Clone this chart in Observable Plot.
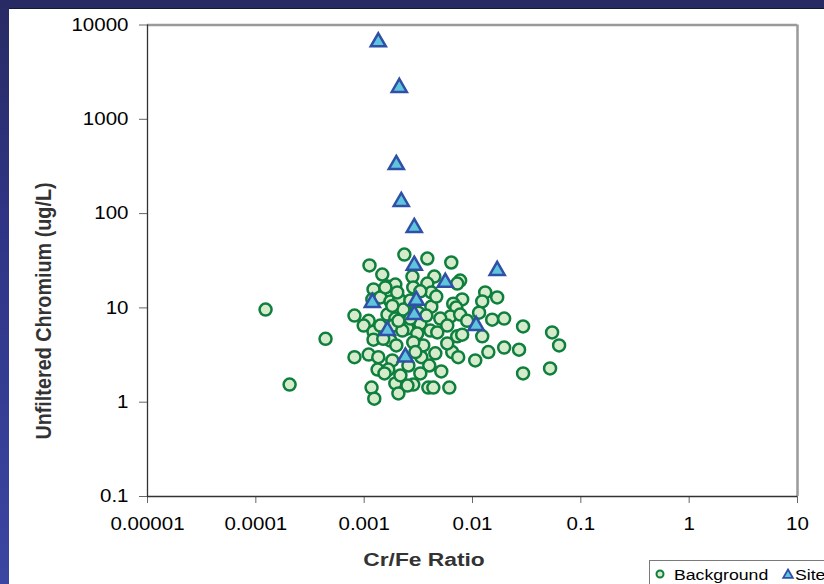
<!DOCTYPE html>
<html>
<head>
<meta charset="utf-8">
<script src="https://cdn.jsdelivr.net/npm/d3@7"></script>
<script src="https://cdn.jsdelivr.net/npm/@observablehq/plot@0.6"></script>
<style>
  html, body { margin: 0; padding: 0; background: #fff; overflow: hidden; }
  body { width: 824px; height: 584px; position: relative; }
  #topband { position: absolute; left: 0; top: 0; width: 824px; height: 8px; background: #272a63; border-bottom: 1px solid #14163a; }
  #leftband { position: absolute; left: 0; top: 0; width: 9px; height: 584px; background: linear-gradient(#272a63, #2f3586 40%, #3b46a2); }
  #chart { position: absolute; left: 0; top: 0; }
  #legend { position: absolute; left: 649px; top: 560px; width: 200px; height: 32px; border: 1px solid #7a7a7a; background: #fff; }
</style>
</head>
<body>
<div id="chart"></div>
<div id="topband"></div>
<div id="leftband"></div>
<div id="legend"></div>
<script>
// Background samples: Cr/Fe ratio and unfiltered chromium (ug/L)
const bgRatio = [0.000123, 0.00044, 0.000205, 0.00112, 0.00147, 0.00122, 0.00164, 0.00194, 0.00119, 0.00141, 0.00175, 0.00164, 0.000814, 0.0011, 0.00099, 0.00122, 0.00122, 0.00175, 0.000814, 0.0011, 0.00135, 0.00182, 0.00133, 0.00167, 0.00194, 0.00117, 0.00124, 0.00207, 0.00216, 0.00211, 0.00216, 0.00157, 0.00202, 0.0024, 0.00194, 0.00256, 0.00186,
  0.00235, 0.00383, 0.00637, 0.00279, 0.00444, 0.00769, 0.00723, 0.00383, 0.00284, 0.00417, 0.0131, 0.0169, 0.0123, 0.00803, 0.00664, 0.00708, 0.00417, 0.0023, 0.0115, 0.00624, 0.00769, 0.00504, 0.0152, 0.0196, 0.00893, 0.00585, 0.0033, 0.00408, 0.00251, 0.00473, 0.00309, 0.00723, 0.00803, 0.0123, 0.0293, 0.0543, 0.063, 0.00351, 0.00284, 0.0065, 0.00738, 0.0106, 0.014, 0.0196, 0.0269, 0.00337, 0.00399, 0.0033, 0.00515, 0.00391, 0.00435, 0.00611, 0.00284, 0.0293, 0.052, 0.00256, 0.00251, 0.00225, 0.00267, 0.00316,
  0.00141, 0.0015, 0.00198, 0.00154, 0.00267, 0.00375, 0.00463, 0.0033, 0.00207, 0.00585, 0.00454, 0.00182, 0.00297];
const bgCr = [9.6, 4.7, 1.54, 28.2, 22.6, 15.7, 16.9, 17.7, 12.3, 12.9, 11.7, 8.5, 8.3, 7.3, 6.5, 5.6, 4.6, 4.5, 3.0, 3.2, 3.0, 2.77, 2.22, 2.22, 1.58, 1.43, 1.09, 1.24, 1.92, 12.3, 7.7, 16.5, 14.6, 9.4, 7.7, 6.2, 6.5,
  36.8, 33.4, 30.3, 21.5, 21.5, 19.5, 18.1, 18.1, 16.5, 14.6, 14.6, 12.9, 11.7, 12.3, 11.1, 10.1, 10.3, 9.6, 8.9, 8.1, 8.5, 7.7, 7.5, 7.7, 7.3, 6.5, 6.8, 5.75, 6.05, 5.5, 5.35, 5.0, 5.2, 5.0, 6.35, 5.5, 4.0, 4.0, 4.3, 3.4, 3.0, 2.77, 3.4, 3.8, 3.6, 3.0, 2.45, 2.02, 2.12, 1.43, 1.43, 1.43, 1.54, 2.02, 2.28, 2.45, 1.5, 5.75, 12.0, 8.9,
  6.5, 4.7, 4.0, 2.02, 7.7, 8.3, 13.2, 15.0, 7.3, 4.2, 3.3, 10.5, 3.4];

// Site samples
const siteRatio = [0.00135, 0.00211, 0.00198, 0.0022, 0.0029, 0.0029, 0.0169, 0.00561, 0.00119, 0.00303, 0.0029, 0.00164, 0.0108, 0.0024];
const siteCr = [6600, 2170, 330, 134, 71, 28.2, 24.9, 18.6, 11.4, 12.0, 8.5, 5.75, 6.5, 3.0];

// Axis ticks and labels
const xTicks = [0.00001, 0.0001, 0.001, 0.01, 0.1, 1, 10];
const xTickLabels = ["0.00001", "0.0001", "0.001", "0.01", "0.1", "1", "10"];
const yTicks = [0.1, 1, 10, 100, 1000, 10000];
const yTickLabels = ["0.1", "1", "10", "100", "1000", "10000"];
const xTitle = "Cr/Fe Ratio";
const yTitle = "Unfiltered Chromium (ug/L)";
const seriesNames = ["Background", "Site"];

const bg = bgRatio.map((r, i) => ({ratio: r, cr: bgCr[i]}));
const site = siteRatio.map((r, i) => ({ratio: r, cr: siteCr[i]}));

const circleFill = "#d5ebcb", circleStroke = "#0e7f3d";
const triFill = "#5ec5dd", triStroke = "#3050a8";
const FONT = "'Liberation Sans', Arial, sans-serif";

const plot = Plot.plot({
  width: 824,
  height: 584,
  marginLeft: 147,
  marginRight: 27,
  marginTop: 24.5,
  marginBottom: 88,
  style: {fontFamily: FONT, fontSize: "18px", color: "#000", background: "transparent"},
  x: {type: "log", domain: [0.00001, 10], label: null},
  y: {type: "log", domain: [0.1, 10000], label: null},
  marks: [
    Plot.ruleY([10000], {stroke: "#9a9a9a", strokeWidth: 2.5}),
    Plot.ruleX([10], {stroke: "#9a9a9a", strokeWidth: 2.5}),
    Plot.axisX({ticks: xTicks, tickFormat: d => xTickLabels[xTicks.indexOf(d)], tickSize: 7, tickPadding: 14, stroke: "#666", label: null}),
    Plot.axisY({ticks: yTicks, tickFormat: d => yTickLabels[yTicks.indexOf(d)], tickSize: 8, tickPadding: 11, stroke: "#666", label: null}),
    Plot.ruleX([0.00001], {stroke: "#333", strokeWidth: 1.3}),
    Plot.ruleY([0.1], {stroke: "#333", strokeWidth: 1.3}),
    Plot.dot(bg, {x: "ratio", y: "cr", r: 6, fill: circleFill, stroke: circleStroke, strokeWidth: 2.5}),
    Plot.dot(site, {x: "ratio", y: "cr", symbol: "triangle", r: 5.6, fill: triFill, stroke: triStroke, strokeWidth: 2.5})
  ]
});

// Widen tick labels slightly (the reference text is horizontally stretched)
d3.select(plot).selectAll("g[aria-label$='tick label'] text").each(function() {
  const t = this.getAttribute("transform");
  if (t) this.setAttribute("transform", t + " scale(1.14,1)");
});

const svg = d3.select(plot);
svg.append("text")
  .attr("transform", "translate(424,566) scale(1.2,1)")
  .attr("text-anchor", "middle")
  .attr("font-family", FONT).attr("font-weight", "bold").attr("font-size", 19)
  .attr("fill", "#333")
  .text(xTitle);
svg.append("text")
  .attr("transform", "translate(51,311) rotate(-90) scale(1,1.1)")
  .attr("text-anchor", "middle")
  .attr("font-family", FONT).attr("font-weight", "bold").attr("font-size", 19.8)
  .attr("fill", "#333")
  .text(yTitle);

document.getElementById("chart").appendChild(plot);

// Legend
const lg = d3.select("#legend").append("svg").attr("width", 200).attr("height", 32);
lg.append("circle").attr("cx", 10).attr("cy", 13).attr("r", 3.5)
  .attr("fill", circleFill).attr("stroke", circleStroke).attr("stroke-width", 2);
lg.append("text").attr("transform", "translate(24,19) scale(1.14,1)")
  .attr("font-family", FONT).attr("font-size", 15.5).attr("fill", "#000").text(seriesNames[0]);
lg.append("path").attr("d", d3.symbol(d3.symbolTriangle, 40)()).attr("transform", "translate(138,14)")
  .attr("fill", triFill).attr("stroke", triStroke).attr("stroke-width", 1.8);
lg.append("text").attr("transform", "translate(145,19) scale(1.14,1)")
  .attr("font-family", FONT).attr("font-size", 15.5).attr("fill", "#000").text(seriesNames[1]);
</script>
</body>
</html>
